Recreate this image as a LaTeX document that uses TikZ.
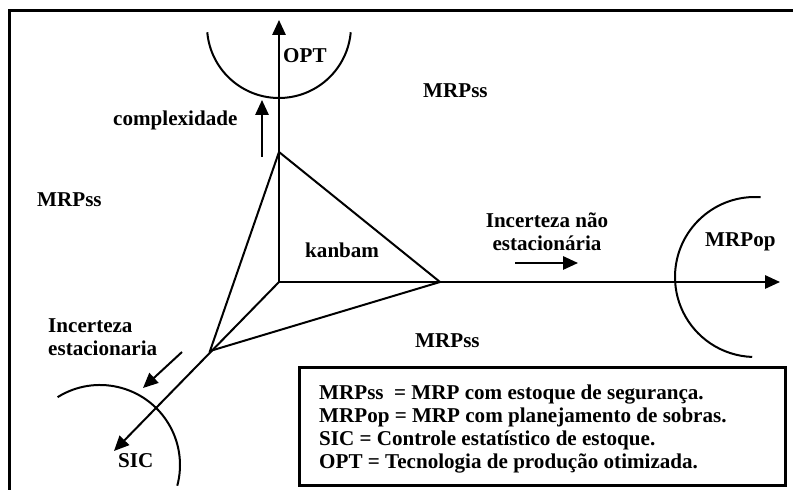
\documentclass[tikz,border=0pt]{standalone}
\usepackage{fontspec}
\setmainfont{Liberation Serif}
\usetikzlibrary{arrows.meta, positioning}

\begin{document}
\begin{tikzpicture}[x=0.3mm, y=0.3mm,
    linha/.style={line width=0.6mm},
    seta/.style={linha, -{Triangle[length=4.5mm, width=4mm]}},
    rotulo/.style={font=\fontsize{18}{19.6}\selectfont\bfseries, inner sep=0pt, anchor=base west}]
  \useasboundingbox (0,0) rectangle (793,490);

  % Frame
  \draw[line width=0.9mm] (9,0) -- (9,479) -- (793,479);

  % Points
  \coordinate (O) at (279,208);
  \coordinate (Yopt) at (279,470);
  \coordinate (Xop) at (780,208);
  \coordinate (Zsic) at (114,39);
  \coordinate (A) at (279,338);
  \coordinate (B) at (440,208);
  \coordinate (C) at (210,139);

  % Axes
  \draw[seta] (O) -- (Yopt);
  \draw[seta] (O) -- (Xop);
  \draw[seta] (O) -- (Zsic);

  % Triangle
  \draw[linha] (A) -- (B) -- (C) -- cycle;

  % Arcs
  \draw[linha] (279,464) ++(185:72) arc[start angle=185, end angle=355, radius=72];
  \draw[linha] (755,213) ++(86:80) arc[start angle=86, end angle=268, radius=80];
  \draw[linha] (100,25) ++(122:80) arc[start angle=122, end angle=-15, radius=80];

  % Small arrows
  \coordinate (c1) at (262,333);
  \coordinate (c2) at (262,390);
  \coordinate (n1) at (515,227);
  \coordinate (n2) at (578,227);
  \coordinate (e1) at (182,138);
  \coordinate (e2) at (143,102);
  \draw[seta] (c1) -- (c2);
  \draw[seta] (n1) -- (n2);
  \draw[seta] (e1) -- (e2);

  % Labels
  \node[rotulo] (opt) at (283,427) {OPT};
  \node[rotulo] (complex) at (113,364) {complexidade};
  \node[rotulo] (mrpssW) at (37,283) {MRPss};
  \node[rotulo] (mrpssN) at (423,392) {MRPss};
  \node[rotulo, anchor=north, align=center] (incNE) at (547,277) {Incerteza não\\estacionária};
  \node[rotulo] (mrpop) at (705,243) {MRPop};
  \node[rotulo] (kanbam) at (305,232) {kanbam};
  \node[rotulo] (mrpssS) at (415,142) {MRPss};
  \node[rotulo, anchor=north west, align=left] (incE) at (48,172) {Incerteza\\estacionaria};
  \node[rotulo] (sic) at (118,22) {SIC};

  % Legend
  \node[draw, line width=0.75mm, anchor=south west, minimum width=145.8mm, minimum height=35.4mm] (caixa) at (298,3) {};
  \node[rotulo, anchor=north west, align=left] (legenda) at (319,105)
    {MRPss\ \ = MRP com estoque de segurança.\\
     MRPop = MRP com planejamento de sobras.\\
     SIC = Controle estatístico de estoque.\\
     OPT = Tecnologia de produção otimizada.};
\end{tikzpicture}
\end{document}
